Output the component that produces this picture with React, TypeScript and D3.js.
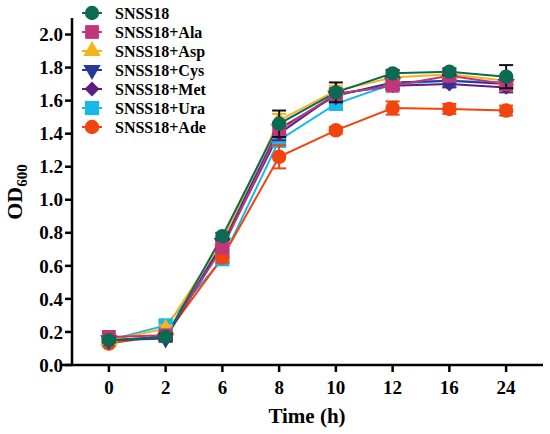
import * as d3 from 'd3';
import React from 'react';

const timeLabels = ['0', '2', '6', '8', '10', '12', '16', '24'];
const seriesNames = ['SNSS18', 'SNSS18+Ala', 'SNSS18+Asp', 'SNSS18+Cys', 'SNSS18+Met', 'SNSS18+Ura', 'SNSS18+Ade'];

const snss18 = [0.15, 0.17, 0.78, 1.46, 1.65, 1.765, 1.775, 1.745];
const snss18Ala = [0.17, 0.18, 0.71, 1.42, 1.64, 1.69, 1.75, 1.70];
const snss18Asp = [0.15, 0.22, 0.75, 1.48, 1.66, 1.74, 1.76, 1.72];
const snss18Cys = [0.15, 0.16, 0.74, 1.43, 1.63, 1.71, 1.72, 1.70];
const snss18Met = [0.15, 0.17, 0.72, 1.40, 1.64, 1.69, 1.70, 1.68];
const snss18Ura = [0.15, 0.24, 0.64, 1.36, 1.58, 1.70, 1.72, 1.71];
const snss18Ade = [0.13, 0.18, 0.65, 1.26, 1.42, 1.555, 1.55, 1.54];

const errSnss18 = [0.01, 0.02, 0.02, 0.08, 0.06, 0.02, 0.02, 0.07];
const errAla = [0.01, 0.02, 0.02, 0.04, 0.03, 0.02, 0.02, 0.03];
const errAsp = [0.01, 0.02, 0.02, 0.04, 0.03, 0.02, 0.02, 0.03];
const errCys = [0.01, 0.02, 0.02, 0.04, 0.03, 0.02, 0.02, 0.03];
const errMet = [0.01, 0.02, 0.02, 0.04, 0.03, 0.02, 0.02, 0.03];
const errUra = [0.01, 0.03, 0.02, 0.04, 0.03, 0.03, 0.02, 0.03];
const errAde = [0.01, 0.02, 0.03, 0.07, 0.02, 0.04, 0.03, 0.03];

const yTicks = [0, 0.2, 0.4, 0.6, 0.8, 1.0, 1.2, 1.4, 1.6, 1.8, 2.0];

const colors = ['#0a6a52', '#c2357a', '#f4b41a', '#28379a', '#5f1b80', '#18b9e8', '#f2440f'];
const values = [snss18, snss18Ala, snss18Asp, snss18Cys, snss18Met, snss18Ura, snss18Ade];
const errors = [errSnss18, errAla, errAsp, errCys, errMet, errUra, errAde];
const errColors = ['#111', '#c2357a', '#f4b41a', '#28379a', '#5f1b80', '#18b9e8', '#f2440f'];

// symbol type + size + rotation per series
const symbols: [d3.SymbolType, number, number][] = [
  [d3.symbolCircle, 160, 0],
  [d3.symbolSquare, 190, 0],
  [d3.symbolTriangle, 130, 0],
  [d3.symbolTriangle, 130, 180],
  [d3.symbolSquare, 110, 45],
  [d3.symbolSquare, 200, 0],
  [d3.symbolCircle, 165, 0],
];

const drawOrder = [5, 6, 4, 3, 2, 1, 0];
const FONT = '"Liberation Serif", "DejaVu Serif", serif';

const txt = { fontFamily: FONT, fontWeight: 700 } as React.CSSProperties;

export default function App() {
  const width = 550;
  const height = 434;
  const axisX = 72;
  const axisY = 365;

  const x = d3.scalePoint<string>().domain(timeLabels).range([axisX, 543]).padding(0.65);
  const y = d3.scaleLinear().domain([0, 2.1]).range([axisY, 18]);

  const line = d3.line<number>()
    .x((_, i) => x(timeLabels[i]) as number)
    .y((d) => y(d));

  return (
    <div style={{ position: 'absolute', left: 0, top: 0 }}>
      <svg width={width} height={height} style={{ display: 'block', background: '#fff' }}>
        {/* axes */}
        <line x1={axisX} x2={axisX} y1={18} y2={axisY} stroke="#000" strokeWidth={2.5} />
        <line x1={62} x2={543} y1={axisY} y2={axisY} stroke="#000" strokeWidth={2.5} />
        {yTicks.map((t) => (
          <g key={t}>
            <line x1={axisX - 7} x2={axisX} y1={y(t)} y2={y(t)} stroke="#000" strokeWidth={2.5} />
            <text x={63} y={y(t)} dy="0.35em" textAnchor="end" style={{ ...txt, fontSize: '19px' }}>{t.toFixed(1)}</text>
          </g>
        ))}
        {timeLabels.map((t) => (
          <g key={t}>
            <line x1={x(t)} x2={x(t)} y1={axisY} y2={axisY + 7} stroke="#000" strokeWidth={2.5} />
            <text x={x(t)} y={394} textAnchor="middle" style={{ ...txt, fontSize: '19px' }}>{t}</text>
          </g>
        ))}
        <text x={307} y={423} textAnchor="middle" style={{ ...txt, fontSize: '21px' }}>Time (h)</text>
        <text transform="rotate(-90)" x={-192} y={22} textAnchor="middle" style={{ ...txt, fontSize: '22px' }}>
          OD<tspan dy={5} style={{ fontSize: '15px' }}>600</tspan>
        </text>

        {/* lines */}
        {drawOrder.map((s) => (
          <path key={'l' + s} d={line(values[s]) as string} fill="none" stroke={colors[s]} strokeWidth={2} />
        ))}

        {/* error bars and markers */}
        {drawOrder.map((s) => {
          const [type, size, rot] = symbols[s];
          const sym = d3.symbol().type(type).size(size)() as string;
          return (
            <g key={'m' + s}>
              {values[s].map((v, i) => {
                const cx = x(timeLabels[i]) as number;
                const e = errors[s][i];
                return (
                  <g key={i}>
                    <line x1={cx} x2={cx} y1={y(v - e)} y2={y(v + e)} stroke={errColors[s]} strokeWidth={2} />
                    <line x1={cx - 7} x2={cx + 7} y1={y(v + e)} y2={y(v + e)} stroke={errColors[s]} strokeWidth={2} />
                    <line x1={cx - 7} x2={cx + 7} y1={y(v - e)} y2={y(v - e)} stroke={errColors[s]} strokeWidth={2} />
                    <path d={sym} transform={`translate(${cx},${y(v)}) rotate(${rot})`} fill={colors[s]} />
                  </g>
                );
              })}
            </g>
          );
        })}

        {/* legend */}
        {seriesNames.map((name, s) => {
          const [type, size, rot] = symbols[s];
          const sym = d3.symbol().type(type).size(size)() as string;
          const ly = 13 + s * 19;
          return (
            <g key={name}>
              <line x1={82} x2={102} y1={ly} y2={ly} stroke={colors[s]} strokeWidth={2} />
              <path d={sym} transform={`translate(92,${ly}) rotate(${rot})`} fill={colors[s]} />
              <text x={115} y={ly} dy="0.35em" style={{ ...txt, fontSize: '16px' }}>{name}</text>
            </g>
          );
        })}
      </svg>
    </div>
  );
}
